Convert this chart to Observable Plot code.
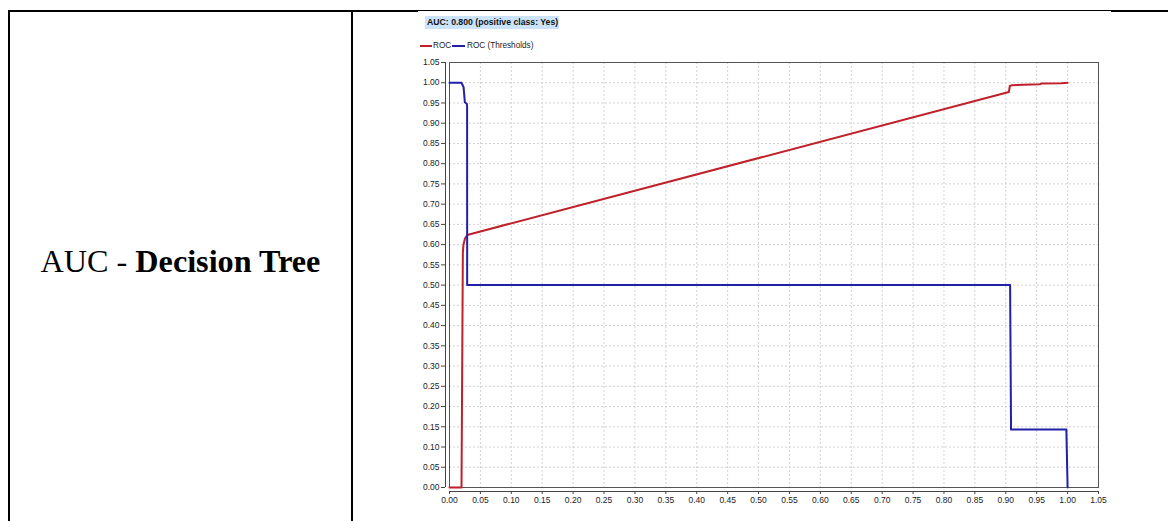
<!DOCTYPE html>
<html><head><meta charset="utf-8">
<script src="https://cdn.jsdelivr.net/npm/d3@7"></script>
<script src="https://cdn.jsdelivr.net/npm/@observablehq/plot@0.6"></script>
<style>
body{margin:0;background:#fff;width:1168px;height:521px;overflow:hidden;position:relative;font-family:"Liberation Sans",Arial,sans-serif;}
.ln{position:absolute;background:#000;}
#label{position:absolute;left:10px;width:341px;top:245px;text-align:center;font-family:"Liberation Serif","Times New Roman",serif;font-size:32.2px;line-height:32px;color:#000;}
#title{position:absolute;left:425px;top:16px;width:134px;height:13px;background:#cce4fb;font-weight:bold;font-size:8.7px;line-height:13px;padding-left:2px;box-sizing:border-box;color:#111;white-space:nowrap;}
.sw{position:absolute;height:2px;top:45px;}
.lt{position:absolute;top:41px;font-size:8.2px;line-height:10px;color:#222;white-space:nowrap;}
</style></head><body>
<div class="ln" style="left:8px;top:10px;width:410px;height:2px"></div>
<div class="ln" style="left:418px;top:10px;width:693px;height:1px"></div>
<div class="ln" style="left:1111px;top:10px;width:57px;height:2px"></div>
<div class="ln" style="left:8px;top:10px;width:2px;height:511px"></div>
<div class="ln" style="left:351px;top:10px;width:2px;height:511px"></div>
<div id="label">AUC - <b>Decision Tree</b></div>
<div id="title">AUC: 0.800 (positive class: Yes)</div>
<div class="sw" style="left:420px;width:12px;background:#c0202a"></div>
<div class="lt" style="left:433px">ROC</div>
<div class="sw" style="left:452px;width:13px;background:#2020a8"></div>
<div class="lt" style="left:467px">ROC (Thresholds)</div>
<div id="chart"></div>
<script>
// ROC curve (false positive rate vs true positive rate)
const rocX = [0, 0.0194, 0.0200, 0.0216, 0.0226, 0.0250, 0.0286, 0.905, 0.9065, 0.910, 0.955, 0.957, 0.990, 1.0];
const rocY = [0, 0, 0.15, 0.58, 0.600, 0.615, 0.624, 0.977, 0.992, 0.994, 0.996, 0.998, 0.999, 1.0];
// ROC (Thresholds)
const thrX = [0, 0.0194, 0.0228, 0.0248, 0.0280, 0.0285, 0.0286, 0.907, 0.9085, 0.998, 1.0];
const thrY = [1.0, 1.0, 0.989, 0.952, 0.948, 0.94, 0.500, 0.500, 0.143, 0.143, 0.0];
// axis ticks
const xTicks = [0, 0.05, 0.10, 0.15, 0.20, 0.25, 0.30, 0.35, 0.40, 0.45, 0.50, 0.55, 0.60, 0.65, 0.70, 0.75, 0.80, 0.85, 0.90, 0.95, 1.00, 1.05];
const yTicks = [0, 0.05, 0.10, 0.15, 0.20, 0.25, 0.30, 0.35, 0.40, 0.45, 0.50, 0.55, 0.60, 0.65, 0.70, 0.75, 0.80, 0.85, 0.90, 0.95, 1.00, 1.05];

const roc = rocX.map((x, i) => ({x, y: rocY[i]}));
const thr = thrX.map((x, i) => ({x, y: thrY[i]}));
const fmt = d => d.toFixed(2);

const chart = Plot.plot({
  width: 740, height: 469,
  marginLeft: 49, marginRight: 42, marginTop: 10, marginBottom: 34,
  style: {position: "absolute", left: "400px", top: "52px", background: "transparent", overflow: "visible", fontFamily: "'Liberation Sans', Arial, sans-serif", fontSize: "8.5px", color: "#222"},
  x: {domain: [0, 1.05], axis: null},
  y: {domain: [0, 1.05], axis: null},
  marks: [
    Plot.gridX(xTicks, {stroke: "#d2d2d2", strokeOpacity: 1, strokeDasharray: "2,2"}),
    Plot.gridY(yTicks, {stroke: "#d2d2d2", strokeOpacity: 1, strokeDasharray: "2,2"}),
    Plot.frame({stroke: "#555"}),
    Plot.ruleY([0], {x1: 0, x2: 1.05, dy: 4, stroke: "#444"}),
    Plot.ruleX([0], {y1: 0, y2: 1.05, dx: -4, stroke: "#444"}),
    Plot.axisX({ticks: xTicks, tickFormat: fmt, tickSize: 3, tickPadding: 2.5, dy: 4, stroke: "#444", fill: "#222", label: null, fontSize: 8.5}),
    Plot.axisY({ticks: yTicks, tickFormat: fmt, tickSize: 4, tickPadding: 2, dx: -4, stroke: "#444", fill: "#222", label: null, fontSize: 8.5}),
    Plot.line(roc, {x: "x", y: "y", stroke: "#c0202a", strokeWidth: 2}),
    Plot.line(thr, {x: "x", y: "y", stroke: "#2020a8", strokeWidth: 2})
  ]
});
document.getElementById("chart").appendChild(chart);
</script>
</body></html>
